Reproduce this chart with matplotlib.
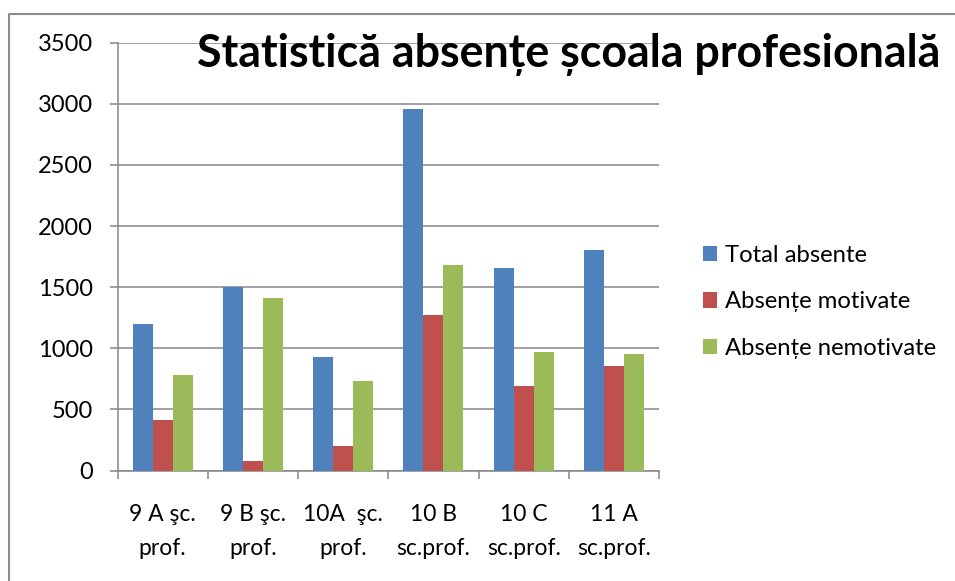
import matplotlib
matplotlib.use("Agg")
import matplotlib.pyplot as plt
from matplotlib.lines import Line2D
from matplotlib.patches import Patch
import numpy as np

plt.rcParams['font.family'] = ['Lato', 'Open Sans', 'DejaVu Sans']

categories = ["9 A şc.\nprof.", "9 B şc.\nprof.", "10A  şc.\nprof.",
              "10 B\nsc.prof.", "10 C\nsc.prof.", "11 A\nsc.prof."]
series_names = ["Total absente", "Absențe motivate", "Absențe nemotivate"]
total_absente = [1200, 1500, 930, 2955, 1655, 1805]
absente_motivate = [415, 80, 200, 1270, 688, 858]
absente_nemotivate = [785, 1415, 730, 1685, 967, 951]
yticks = [0, 500, 1000, 1500, 2000, 2500, 3000, 3500]
title = "Statistică absențe școala profesională"

colors = ["#4F81BD", "#C0504D", "#9BBB59"]
grid_c = "#868686"

W, H = 955, 581
fig = plt.figure(figsize=(W / 100, H / 100), dpi=100)
ax = fig.add_axes([117.5 / W, 1 - 470.5 / H, (659 - 117.5) / W, (470.5 - 42.7) / H])

x = np.arange(len(categories))
bw = 1 / 4.5
for i, (vals, c, name) in enumerate(zip([total_absente, absente_motivate, absente_nemotivate], colors, series_names)):
    ax.bar(x + (i - 1) * bw, vals, width=bw, color=c, label=name, zorder=3, linewidth=0)

ax.set_xlim(-0.5, len(categories) - 0.5)
ax.set_ylim(0, 3500)
ax.set_yticks(yticks)
ax.set_yticklabels([str(v) for v in yticks], fontsize=17)
ax.yaxis.grid(True, color=grid_c, linewidth=1.1, zorder=0)
ax.set_axisbelow(True)

ax.set_xticks(x)
ax.set_xticklabels(categories, fontsize=16.5, linespacing=1.75)
ax.set_xticks(np.arange(-0.5, len(categories)), minor=True)
ax.tick_params(axis='x', which='major', length=0, pad=24)
ax.tick_params(axis='x', which='minor', length=6, width=1.1, color=grid_c, direction='out')
ax.tick_params(axis='y', which='major', length=5.5, width=1.1, color=grid_c, pad=12)

for s in ['top', 'right']:
    ax.spines[s].set_visible(False)
for s in ['left', 'bottom']:
    ax.spines[s].set_color(grid_c)
    ax.spines[s].set_linewidth(1.1)

fig.text(568.5 / W, 1 - 55 / H, title, fontsize=32.2, fontweight='bold',
         ha='center', va='center')

handles = [Patch(facecolor=c, edgecolor='none') for c in colors]
fig.legend(handles, series_names, loc='upper left',
           bbox_to_anchor=(693 / W, 1 - 235 / H), frameon=False,
           fontsize=17.2, handlelength=0.6, handleheight=0.6,
           handletextpad=0.35, labelspacing=1.08, borderaxespad=0)

# outer border
fig.add_artist(Line2D([9 / W, 9 / W, 1], [0, 1 - 14 / H, 1 - 14 / H],
                      transform=fig.transFigure, color="#8c8c8c", linewidth=1.5))

fig.savefig("out.png", dpi=100)
